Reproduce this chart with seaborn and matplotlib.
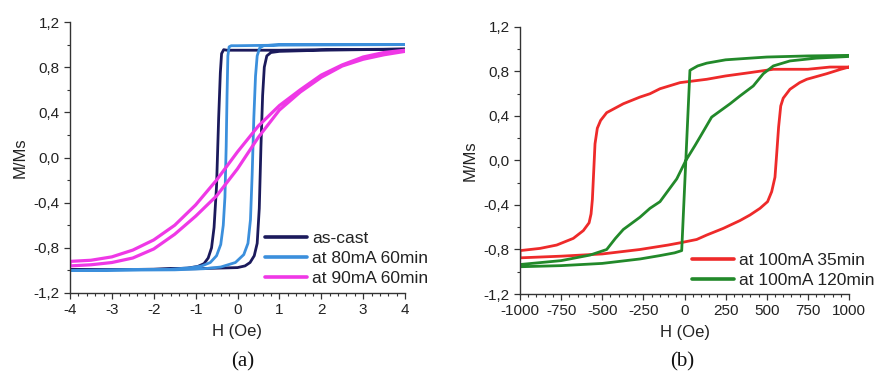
import numpy as np
import pandas as pd
import matplotlib
matplotlib.use("Agg")
import matplotlib.pyplot as plt
from matplotlib.ticker import MultipleLocator, FuncFormatter
import seaborn as sns

# ---------------- data ----------------
# Panel (a): H in Oe, M/Ms
ascast_desc_H = [4, 2, 1, 0, -0.25, -0.33, -0.38, -0.41, -0.45, -0.50, -0.56, -0.62, -0.70, -0.80, -0.95, -1.2, -2, -4]
ascast_desc_M = [0.96, 0.955, 0.95, 0.95, 0.95, 0.955, 0.92, 0.75, 0.35, -0.25, -0.62, -0.80, -0.89, -0.94, -0.965, -0.98, -0.99, -0.995]
ascast_asc_H = [-4, -2, -1, 0, 0.18, 0.30, 0.40, 0.47, 0.52, 0.56, 0.60, 0.64, 0.70, 0.80, 1.0, 2, 4]
ascast_asc_M = [-0.995, -0.99, -0.985, -0.975, -0.96, -0.93, -0.87, -0.76, -0.45, 0.10, 0.55, 0.80, 0.90, 0.93, 0.94, 0.95, 0.96]

a80_desc_H = [4, 1, 0, -0.15, -0.20, -0.23, -0.25, -0.27, -0.30, -0.34, -0.40, -0.50, -0.65, -0.85, -1.1, -1.6, -4]
a80_desc_M = [1.0, 0.995, 0.99, 0.99, 0.98, 0.90, 0.55, 0.10, -0.35, -0.60, -0.77, -0.87, -0.93, -0.96, -0.975, -0.99, -1.0]
a80_asc_H = [-4, -1.5, -0.8, -0.4, -0.05, 0.15, 0.25, 0.31, 0.35, 0.39, 0.43, 0.47, 0.53, 0.62, 1.0, 4]
a80_asc_M = [-1.0, -0.995, -0.985, -0.97, -0.93, -0.86, -0.76, -0.55, -0.15, 0.35, 0.72, 0.90, 0.97, 0.99, 1.0, 1.0]

a90_desc_H = [4, 3.5, 3, 2.5, 2, 1.5, 1, 0.5, 0, -0.5, -1, -1.5, -2, -2.5, -3, -3.5, -4]
a90_desc_M = [0.95, 0.93, 0.89, 0.82, 0.73, 0.60, 0.46, 0.28, 0.05, -0.20, -0.42, -0.60, -0.73, -0.82, -0.88, -0.91, -0.92]
a90_asc_H = [-4, -3.5, -3, -2.5, -2, -1.5, -1, -0.5, 0, 0.5, 1, 1.5, 2, 2.5, 3, 3.5, 4]
a90_asc_M = [-0.96, -0.95, -0.93, -0.89, -0.81, -0.68, -0.52, -0.34, -0.10, 0.18, 0.42, 0.58, 0.71, 0.81, 0.87, 0.91, 0.94]

# Panel (b): H in Oe, M/Ms
r35_desc_H = [1000, 884, 750, 540, 398, 250, 135, -27, -149, -210, -271, -372, -473, -510, -530, -544, -552, -560, -568, -580, -615, -676, -777, -878, -1000]
r35_desc_M = [0.84, 0.84, 0.82, 0.82, 0.79, 0.76, 0.73, 0.70, 0.645, 0.60, 0.57, 0.51, 0.43, 0.36, 0.29, 0.15, -0.10, -0.35, -0.48, -0.56, -0.63, -0.70, -0.76, -0.79, -0.81]
r35_asc_H = [-1000, -750, -500, -271, -100, -27, 74, 135, 236, 337, 398, 459, 505, 530, 550, 560, 572, 585, 600, 641, 700, 743, 864, 950, 1000]
r35_asc_M = [-0.875, -0.86, -0.84, -0.80, -0.76, -0.74, -0.71, -0.67, -0.61, -0.54, -0.49, -0.43, -0.37, -0.28, -0.15, 0.05, 0.30, 0.49, 0.56, 0.64, 0.70, 0.73, 0.78, 0.82, 0.84]

g120_desc_H = [1000, 750, 500, 398, 250, 135, 80, 44, 33, 8, -47, -149, -210, -271, -372, -420, -473, -574, -750, -1000]
g120_desc_M = [0.945, 0.94, 0.93, 0.92, 0.905, 0.875, 0.85, 0.82, 0.81, 0.0, -0.165, -0.37, -0.43, -0.51, -0.62, -0.70, -0.80, -0.85, -0.90, -0.935]
g120_asc_H = [-1000, -750, -500, -270, -150, -60, -17, 8, 64, 94, 165, 277, 337, 418, 479, 540, 641, 800, 1000]
g120_asc_M = [-0.955, -0.945, -0.925, -0.885, -0.855, -0.83, -0.81, 0.0, 0.135, 0.21, 0.39, 0.51, 0.58, 0.67, 0.78, 0.85, 0.895, 0.92, 0.935]

y_ticks = [-1.2, -0.8, -0.4, 0.0, 0.4, 0.8, 1.2]
xa_ticks = [-4, -3, -2, -1, 0, 1, 2, 3, 4]
xb_ticks = [-1000, -750, -500, -250, 0, 250, 500, 750, 1000]

series_a = [
    ("as-cast", ascast_desc_H, ascast_desc_M, ascast_asc_H, ascast_asc_M, "#1b1a5c"),
    ("at 80mA 60min", a80_desc_H, a80_desc_M, a80_asc_H, a80_asc_M, "#3b8fdc"),
    ("at 90mA 60min", a90_desc_H, a90_desc_M, a90_asc_H, a90_asc_M, "#ef38e6"),
]
series_b = [
    ("at 100mA 35min", r35_desc_H, r35_desc_M, r35_asc_H, r35_asc_M, "#ee2a2a"),
    ("at 100mA 120min", g120_desc_H, g120_desc_M, g120_asc_H, g120_asc_M, "#22892a"),
]

# ---------------- style ----------------
sns.set_style("ticks")
plt.rcParams["font.family"] = ["Liberation Sans", "DejaVu Sans"]
plt.rcParams["axes.unicode_minus"] = False

fig = plt.figure(figsize=(8.75, 3.79), dpi=100)
W, H = 875.0, 379.0
ax_a = fig.add_axes([70 / W, 1 - 293 / H, 335 / W, 271 / H])
ax_b = fig.add_axes([520 / W, 1 - 294 / H, 329 / W, 267 / H])


def comma(v, pos):
    return f"{v:.1f}".replace(".", ",")


def draw(ax, series, lw_map):
    for label, dH, dM, aH, aM, col in series:
        df = pd.DataFrame({"H": list(dH) + list(aH), "M": list(dM) + list(aM)})
        sns.lineplot(data=df, x="H", y="M", sort=False, estimator=None, ax=ax,
                     color=col, lw=lw_map.get(label, 2.0), label=label,
                     solid_joinstyle="round", solid_capstyle="round")


draw(ax_a, series_a, {"at 90mA 60min": 2.3})
draw(ax_b, series_b, {})

for ax, xt, xminor in [(ax_a, xa_ticks, 0.2), (ax_b, xb_ticks, 50)]:
    ax.set_xlim(xt[0], xt[-1])
    ax.set_ylim(-1.2, 1.2)
    ax.set_xticks(xt)
    ax.set_yticks(y_ticks)
    ax.xaxis.set_minor_locator(MultipleLocator(xminor))
    ax.yaxis.set_minor_locator(MultipleLocator(0.2))
    ax.yaxis.set_major_formatter(FuncFormatter(comma))
    ax.xaxis.set_major_formatter(FuncFormatter(lambda v, p: f"{int(round(v))}"))
    ax.tick_params(which="major", direction="out", length=4, width=0.9, labelsize=11,
                   colors="#333333", labelcolor="#222222", pad=3.5)
    ax.tick_params(which="minor", direction="out", length=2.5, width=0.8, colors="#333333")
    for s in ["top", "right"]:
        ax.spines[s].set_visible(False)
    for s in ["left", "bottom"]:
        ax.spines[s].set_color("#333333")
        ax.spines[s].set_linewidth(1.0)
    ax.set_xlabel("H (Oe)", fontsize=12, color="#222222", labelpad=5)
    ax.set_ylabel("M/Ms", fontsize=12, color="#222222", labelpad=4)

leg_a = ax_a.legend(loc="upper left", bbox_to_anchor=(0.582, 0.23), frameon=False,
                    fontsize=12.5, handlelength=2.4, handletextpad=0.3,
                    labelspacing=0.28, borderpad=0, borderaxespad=0)
leg_b = ax_b.legend(loc="upper left", bbox_to_anchor=(0.523, 0.155), frameon=False,
                    fontsize=12.5, handlelength=2.4, handletextpad=0.3,
                    labelspacing=0.28, borderpad=0, borderaxespad=0)
for leg in (leg_a, leg_b):
    for t in leg.get_texts():
        t.set_color("#222222")
    for l in leg.get_lines():
        l.set_linewidth(2.6)

fig.text(243 / W, 1 - 362 / H, "(a)", family=["Liberation Serif", "DejaVu Serif"],
         fontsize=15, ha="center", va="center", color="#111111")
fig.text(682 / W, 1 - 362 / H, "(b)", family=["Liberation Serif", "DejaVu Serif"],
         fontsize=15, ha="center", va="center", color="#111111")

fig.savefig("out.png", dpi=100, facecolor="white")
